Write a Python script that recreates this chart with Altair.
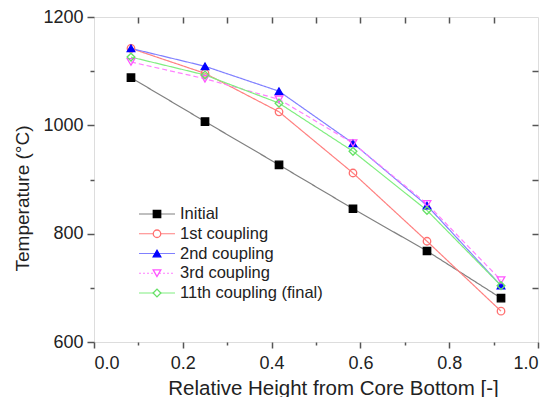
import altair as alt
import pandas as pd

heights = [0.0833, 0.25, 0.4167, 0.5833, 0.75, 0.9167]
series_names = ["Initial", "1st coupling", "2nd coupling", "3rd coupling", "11th coupling (final)"]
initial = [1088, 1007, 927, 846, 768, 681]
first = [1142, 1096, 1025, 912, 786, 657]
second = [1142, 1109, 1063, 967, 852, 704]
third = [1117, 1086, 1048, 967, 855, 714]
eleventh = [1126, 1093, 1041, 952, 843, 704]

line_colors = ["#808080", "#ff8080", "#8080ff", "#ff80ff", "#80ee80"]
marker_strokes = ["#000000", "#ff7070", "#0000ff", "#ff55ff", "#66e066"]
marker_fills = ["#000000", "transparent", "#0000ff", "transparent", "transparent"]
shapes = ["square", "circle", "triangle-up", "triangle-down", "diamond"]
dashes = [[1, 0], [1, 0], [1, 0], [5, 3], [1, 0]]
sizes = [55, 60, 70, 65, 65]

rows = []
for name, vals in zip(series_names, [initial, first, second, third, eleventh]):
    for h, v in zip(heights, vals):
        rows.append({"series": name, "h": h, "T": v})
df = pd.DataFrame(rows)
leg = pd.DataFrame({"series": series_names})

FONT = "Liberation Sans"
W, H = 444, 325

xs = alt.Scale(domain=[0, 1], nice=False, zero=False)
ys = alt.Scale(domain=[600, 1200], nice=False, zero=False)
col = alt.Scale(domain=series_names, range=line_colors)

x_axis = alt.Axis(
    values=[round(i * 0.1, 1) for i in range(11)],
    labelExpr="round(datum.value*10)%2==0 ? format(datum.value,'.1f') : ''",
    tickSize={"condition": {"test": "round(datum.value*10)%2==0", "value": 6}, "value": 3},
    labelPadding=6, domain=False, grid=False, tickColor="#555", tickWidth=1.5,
    labelFont=FONT, labelFontSize=18, labelColor="#222",
    title="Relative Height from Core Bottom [-]", titleFont=FONT, titleFontSize=20.5,
    titleFontWeight="normal", titleColor="#222", titleX=239, titleY=36,
)
y_axis = alt.Axis(
    values=[600 + 100 * i for i in range(7)],
    labelExpr="datum.value%200==0 ? format(datum.value,'d') : ''",
    tickSize={"condition": {"test": "datum.value%200==0", "value": 7}, "value": 4},
    labelPadding=4, domain=False, grid=False, tickColor="#555", tickWidth=1.5,
    labelFont=FONT, labelFontSize=18, labelColor="#222",
    title="Temperature (°C)", titleFont=FONT, titleFontSize=19,
    titleFontWeight="normal", titleColor="#222", titleX=-62, titleY=181,
)

lines = alt.Chart(df).mark_line(strokeWidth=1.2).encode(
    x=alt.X("h:Q", scale=xs, axis=x_axis),
    y=alt.Y("T:Q", scale=ys, axis=y_axis),
    color=alt.Color("series:N", scale=col, legend=None),
    strokeDash=alt.StrokeDash("series:N", scale=alt.Scale(domain=series_names, range=dashes), legend=None),
    detail="series:N",
)
points = alt.Chart(df).mark_point(filled=False, strokeWidth=1.3, opacity=1).encode(
    x=alt.X("h:Q", scale=xs),
    y=alt.Y("T:Q", scale=ys),
    shape=alt.Shape("series:N", scale=alt.Scale(domain=series_names, range=shapes), legend=None),
    stroke=alt.Stroke("series:N", scale=alt.Scale(domain=series_names, range=marker_strokes), legend=None),
    fill=alt.Fill("series:N", scale=alt.Scale(domain=series_names, range=marker_fills), legend=None),
    size=alt.Size("series:N", scale=alt.Scale(domain=series_names, range=sizes), legend=None),
)
main = alt.layer(lines, points)

frame = alt.Chart(df).mark_point(opacity=0).encode(
    x=alt.X("h:Q", scale=xs, axis=alt.Axis(
        orient="top", values=[round(i * 0.1, 1) for i in range(1, 10)], labels=False,
        domain=False, tickSize=6, offset=-6, tickColor="#555", tickWidth=1.5, title=None, grid=False)),
    y=alt.Y("T:Q", scale=ys, axis=alt.Axis(
        orient="right", values=[700 + 100 * i for i in range(5)], labels=False,
        domain=False, tickSize=6, offset=-6, tickColor="#555", tickWidth=1.5, title=None, grid=False)),
)

ly = alt.Scale(type="point", domain=series_names, range=[197, 276], padding=0)
leg_lines = alt.Chart(leg).mark_rule(strokeWidth=1.2).encode(
    x=alt.value(45), x2=alt.value(81),
    y=alt.Y("series:N", scale=ly, axis=None),
    color=alt.Color("series:N", scale=col, legend=None),
    strokeDash=alt.StrokeDash("series:N", scale=alt.Scale(domain=series_names, range=[[1, 0], [1, 0], [1, 0], [2, 2], [1, 0]]), legend=None),
)
leg_pts = alt.Chart(leg).mark_point(filled=False, strokeWidth=1.3, opacity=1).encode(
    x=alt.value(63),
    y=alt.Y("series:N", scale=ly, axis=None),
    shape=alt.Shape("series:N", scale=alt.Scale(domain=series_names, range=shapes), legend=None),
    stroke=alt.Stroke("series:N", scale=alt.Scale(domain=series_names, range=marker_strokes), legend=None),
    fill=alt.Fill("series:N", scale=alt.Scale(domain=series_names, range=["#000000", "white", "#0000ff", "white", "white"]), legend=None),
    size=alt.Size("series:N", scale=alt.Scale(domain=series_names, range=sizes), legend=None),
)
leg_txt = alt.Chart(leg).mark_text(align="left", baseline="middle", font=FONT, fontSize=16.5, color="#222").encode(
    x=alt.value(86),
    y=alt.Y("series:N", scale=ly, axis=None),
    text="series:N",
)
legend = alt.layer(leg_lines, leg_pts, leg_txt)

chart = alt.layer(main, frame, legend).resolve_scale(
    x="independent", y="independent", color="independent", shape="independent",
    stroke="independent", fill="independent", size="independent", strokeDash="independent",
).properties(
    width=W, height=H,
    autosize=alt.AutoSizeParams(type="none"),
    padding={"left": 86, "top": 9, "right": 7, "bottom": 56},
).configure_view(stroke="#555", strokeWidth=2).configure(background="white")

chart.save("out.html", embed_options={"renderer": "svg", "actions": False})
